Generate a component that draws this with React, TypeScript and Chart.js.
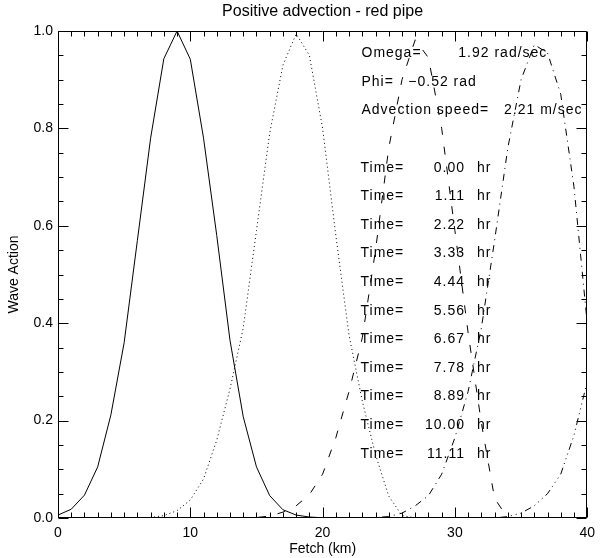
import { useEffect, useRef } from 'react';
import { Chart, registerables } from 'chart.js';

Chart.register(...registerables);

// Fetch positions (km) at which the wave action is sampled
const FETCH_KM = [
  0, 1, 2, 3, 4, 5, 6, 7, 8, 9, 10, 11, 12, 13, 14, 15, 16, 17, 18, 19, 20,
  21, 22, 23, 24, 25, 26, 27, 28, 29, 30, 31, 32, 33, 34, 35, 36, 37, 38, 39, 40,
];

// Wave action profiles, one per output time
const WAVE_T0 = [
  0.006, 0.018, 0.047, 0.105, 0.212, 0.36, 0.57, 0.78, 0.943, 1.0, 0.942,
  0.78, 0.58, 0.365, 0.208, 0.105, 0.046, 0.017, 0.006, 0.002, 0.0005,
  0, 0, 0, 0, 0, 0, 0, 0, 0, 0, 0, 0, 0, 0, 0, 0, 0, 0, 0, 0,
];
const WAVE_T1 = [
  0, 0, 0, 0, 0, 0, 0, 0.001, 0.005, 0.015, 0.037, 0.08, 0.16, 0.265, 0.39,
  0.59, 0.79, 0.93, 0.994, 0.95, 0.8, 0.58, 0.375, 0.24, 0.13, 0.045, 0.005,
  0, 0, 0, 0, 0, 0, 0, 0, 0, 0, 0, 0, 0, 0,
];
const WAVE_T2 = [
  0, 0, 0, 0, 0, 0, 0, 0, 0, 0, 0, 0, 0, 0, 0, 0.001, 0.004, 0.012, 0.025,
  0.048, 0.09, 0.165, 0.26, 0.37, 0.55, 0.76, 0.9, 0.982, 0.945, 0.8, 0.59,
  0.38, 0.195, 0.04, 0, 0, 0, 0, 0, 0, 0,
];
const WAVE_T3 = [
  0, 0, 0, 0, 0, 0, 0, 0, 0, 0, 0, 0, 0, 0, 0, 0, 0, 0, 0, 0, 0, 0, 0, 0,
  0.001, 0.003, 0.01, 0.025, 0.046, 0.09, 0.165, 0.26, 0.39, 0.57, 0.76, 0.9,
  0.972, 0.955, 0.87, 0.68, 0.4,
];
const WAVE_T4 = [
  0, 0, 0, 0, 0, 0, 0, 0, 0, 0, 0, 0, 0, 0, 0, 0, 0, 0, 0, 0, 0, 0, 0, 0,
  0, 0, 0, 0, 0, 0, 0, 0, 0, 0, 0.003, 0.01, 0.025, 0.05, 0.09, 0.17, 0.28,
];

// IDL-like line styles: solid, dotted, dashed, dash-dot, dash-dot-dot-dot
const LINE_DASHES: number[][] = [[], [1, 3], [8, 12], [7, 5, 1, 5], [7, 4, 1, 4, 1, 4, 1, 4]];
const PROFILES = [WAVE_T0, WAVE_T1, WAVE_T2, WAVE_T3, WAVE_T4];

const TITLE = 'Positive advection - red pipe';
const X_TITLE = 'Fetch (km)';
const Y_TITLE = 'Wave Action';

const PARAM_LABELS = ['Omega=', 'Phi=', 'Advection speed='];
const PARAM_VALUES = ['1.92 rad/sec', '\u22120.52 rad', '2.21 m/sec'];
const TIME_VALUES = [
  '0.00', '1.11', '2.22', '3.33', '4.44', '5.56', '6.67', '7.78', '8.89', '10.00', '11.11',
];

const AXIS_FONT = '"Liberation Sans", Arial, Helvetica, sans-serif';

// Frame, inward tick marks on all four sides, titles and the parameter listing
const framePlugin = {
  id: 'idlFrame',
  afterDraw(chart: Chart) {
    const { ctx, chartArea: a } = chart;
    const xs = chart.scales.x;
    const ys = chart.scales.y;
    ctx.save();
    ctx.strokeStyle = '#000';
    ctx.lineWidth = 1;
    const L = Math.round(a.left) + 0.5;
    const R = Math.round(a.right) - 0.5;
    const T = Math.round(a.top) + 0.5;
    const B = Math.round(a.bottom) - 0.5;
    ctx.beginPath();
    ctx.rect(L, T, R - L, B - T);
    // x ticks: minor every 1 km, major every 10 km
    for (let v = 0; v <= 40; v += 1) {
      const px = Math.round(xs.getPixelForValue(v)) + 0.5;
      const len = v % 10 === 0 ? 10 : 5;
      ctx.moveTo(px, B);
      ctx.lineTo(px, B - len);
      ctx.moveTo(px, T);
      ctx.lineTo(px, T + len);
    }
    // y ticks: minor every 0.05, major every 0.2
    for (let i = 0; i <= 20; i += 1) {
      const py = Math.round(ys.getPixelForValue(i * 0.05)) + 0.5;
      const len = i % 4 === 0 ? 10 : 5;
      ctx.moveTo(L, py);
      ctx.lineTo(L + len, py);
      ctx.moveTo(R, py);
      ctx.lineTo(R - len, py);
    }
    ctx.stroke();

    ctx.fillStyle = '#000';
    ctx.textBaseline = 'middle';
    const cx = (a.left + a.right) / 2;
    ctx.textAlign = 'center';
    ctx.font = `16px ${AXIS_FONT}`;
    ctx.fillText(TITLE, cx, 12);
    ctx.font = `14px ${AXIS_FONT}`;
    ctx.fillText(X_TITLE, cx, 549);
    ctx.save();
    ctx.translate(14, (a.top + a.bottom) / 2);
    ctx.rotate(-Math.PI / 2);
    ctx.fillText(Y_TITLE, 0, 0);
    ctx.restore();

    // parameter listing inside the plot
    ctx.font = `14px ${AXIS_FONT}`;
    (ctx as any).letterSpacing = '1px';
    const rowY = (i: number) => a.top + 22.3 + i * 28.6;
    const labelX = a.left + 303.5;
    const valueX = [a.left + 400.3, a.left + 350.3, a.left + 446];
    ctx.textAlign = 'left';
    PARAM_LABELS.forEach((lab, i) => {
      ctx.fillText(lab, labelX, rowY(i));
      ctx.fillText(PARAM_VALUES[i], valueX[i], rowY(i));
    });
    TIME_VALUES.forEach((t, i) => {
      const yy = rowY(i + 4);
      ctx.textAlign = 'left';
      ctx.fillText('Time=', labelX - 1, yy);
      ctx.textAlign = 'right';
      ctx.fillText(t, a.left + 407, yy);
      ctx.textAlign = 'left';
      ctx.fillText('hr', a.left + 419, yy);
    });
    ctx.restore();
  },
};

export default function App() {
  const canvasRef = useRef<HTMLCanvasElement>(null);

  useEffect(() => {
    document.body.style.margin = '0';
    const canvas = canvasRef.current;
    if (!canvas) return;
    const chart = new Chart(canvas, {
      type: 'line',
      data: {
        datasets: PROFILES.map((vals, k) => ({
          data: FETCH_KM.map((x, i) => ({ x, y: vals[i] })),
          borderColor: '#000',
          borderWidth: 1,
          borderDash: LINE_DASHES[k],
          pointRadius: 0,
          tension: 0,
          fill: false,
        })),
      },
      options: {
        responsive: false,
        animation: false,
        devicePixelRatio: 1,
        layout: { padding: { left: 0, right: 10, top: 31, bottom: 0 } },
        plugins: {
          legend: { display: false },
          tooltip: { enabled: false },
          title: { display: false },
        },
        scales: {
          x: {
            type: 'linear',
            min: 0,
            max: 40,
            afterFit: (s: any) => {
              s.height = 40;
            },
            grid: { display: false, drawTicks: false },
            border: { display: false },
            ticks: {
              stepSize: 10,
              color: '#000',
              padding: 7,
              maxRotation: 0,
              font: { family: AXIS_FONT, size: 14 },
            },
          },
          y: {
            type: 'linear',
            min: 0,
            max: 1,
            afterFit: (s: any) => {
              s.width = 58;
            },
            grid: { display: false, drawTicks: false },
            border: { display: false },
            ticks: {
              stepSize: 0.2,
              color: '#000',
              padding: 5,
              font: { family: AXIS_FONT, size: 14 },
              callback: (v: any) => Number(v).toFixed(1),
            },
          },
        },
      },
      plugins: [framePlugin],
    });
    return () => chart.destroy();
  }, []);

  return (
    <div style={{ width: 602, height: 558 }}>
      <canvas ref={canvasRef} width={602} height={558} style={{ display: 'block' }} />
    </div>
  );
}
